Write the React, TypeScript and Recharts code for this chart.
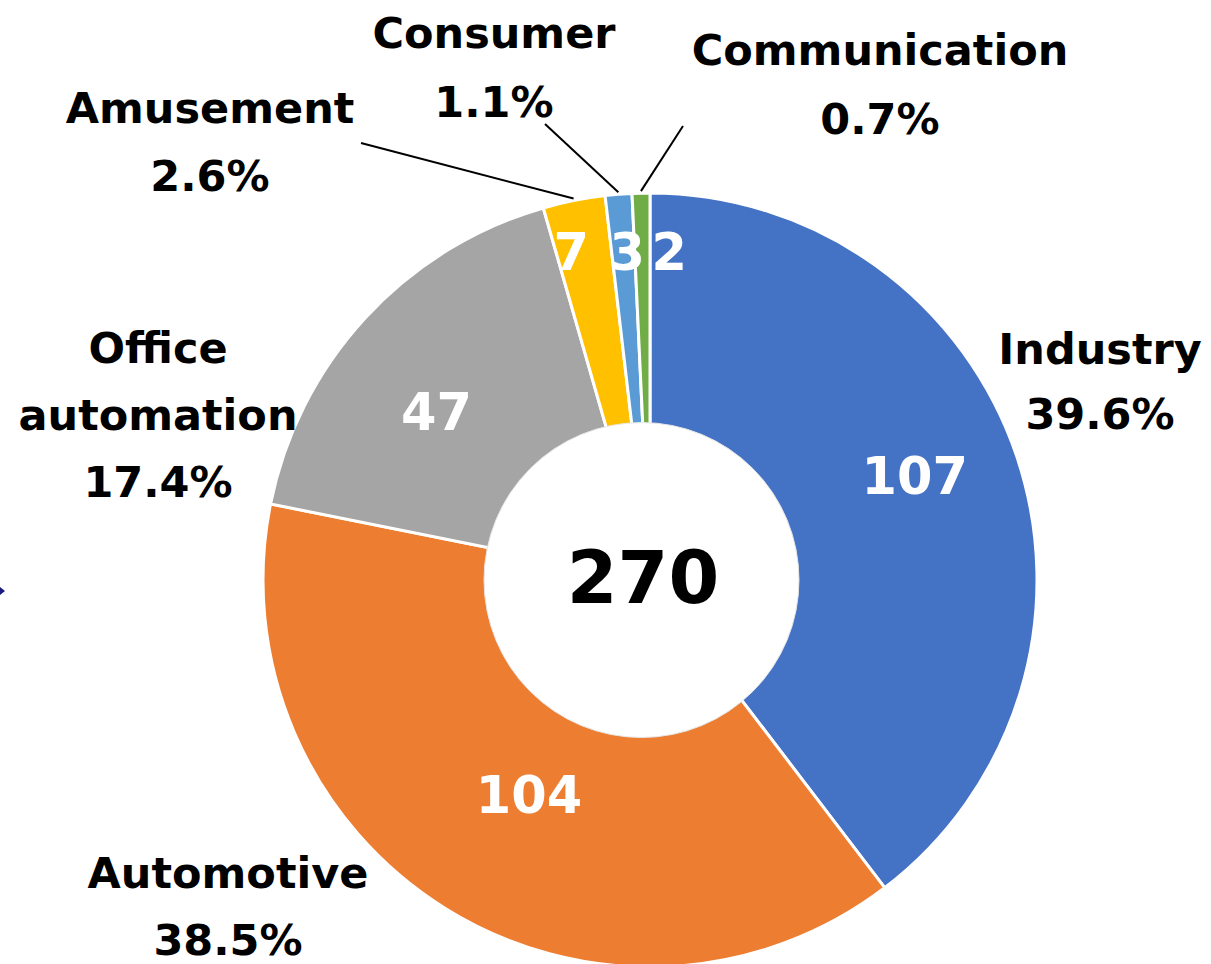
import { PieChart, Pie, Cell } from 'recharts';

const categories = ['Industry', 'Automotive', 'Office automation', 'Amusement', 'Consumer', 'Communication'];
const counts = [107, 104, 47, 7, 3, 2];
const colors = ['#4472C4', '#ED7D31', '#A5A5A5', '#FFC000', '#5B9BD5', '#70AD47'];
const totalLabel = '270';

const data = categories.map((name, i) => ({ name, value: counts[i] }));

// label layout (text only, slices come from the pie itself)
const valueLabelPos = [
  { r: 270, dx: 9, dy: 0 },
  { r: 270, dx: 22, dy: 4 },
  { r: 270, dx: -15, dy: 33 },
  { r: 330, dx: -14, dy: 14 },
  { r: 330, dx: 4, dy: 19 },
  { r: 330, dx: 27, dy: 20 },
];
const nameLabelPos = [
  { x: 1100, y: 364, gap: 65, lines: ['Industry'] },
  { x: 228, y: 888, gap: 67, lines: ['Automotive'] },
  { x: 158, y: 363, gap: 67, lines: ['Office', 'automation'] },
  { x: 210, y: 123, gap: 68, lines: ['Amusement'] },
  { x: 494, y: 48, gap: 69, lines: ['Consumer'] },
  { x: 880, y: 65, gap: 69, lines: ['Communication'] },
];
const leaderEnds: ({ x: number; y: number } | null)[] = [null, null, null, { x: 361, y: 143 }, { x: 545, y: 124 }, { x: 683, y: 126 }];

const FONT = '"DejaVu Sans", Verdana, sans-serif';
const RAD = Math.PI / 180;

const renderLabel = (props: any) => {
  const { cx, cy, midAngle, outerRadius, index, value, percent } = props;
  const polar = (r: number) => ({ x: cx + r * Math.cos(-midAngle * RAD), y: cy + r * Math.sin(-midAngle * RAD) });
  const vp = valueLabelPos[index];
  const v = polar(vp.r);
  const np = nameLabelPos[index];
  const lines = [...np.lines, (percent * 100).toFixed(1) + '%'];
  const end = leaderEnds[index];
  const edge = polar(outerRadius + 2);
  return (
    <g>
      <text x={v.x + vp.dx} y={v.y + vp.dy} textAnchor="middle" fill="#fff" fontSize={51} fontWeight="bold" fontFamily={FONT}>
        {value}
      </text>
      {end && <line x1={edge.x} y1={edge.y} x2={end.x} y2={end.y} stroke="#000" strokeWidth={2} />}
      {lines.map((t, i) => (
        <text key={i} x={np.x} y={np.y + i * np.gap} textAnchor="middle" fill="#000" fontSize={43} fontWeight="bold" fontFamily={FONT}>
          {t}
        </text>
      ))}
    </g>
  );
};

export default function App() {
  return (
    <div style={{ position: 'absolute', left: 0, top: 0, width: 1211, height: 964, background: '#fff' }}>
      <PieChart width={1211} height={964} margin={{ top: 0, right: 0, bottom: 0, left: 0 }}>
        <Pie
          data={data}
          dataKey="value"
          nameKey="name"
          cx={650}
          cy={580}
          innerRadius={140}
          outerRadius={387}
          startAngle={90}
          endAngle={-270}
          stroke="#fff"
          strokeWidth={3}
          label={renderLabel}
          labelLine={false}
          isAnimationActive={false}
        >
          {data.map((d, i) => (
            <Cell key={d.name} fill={colors[i]} />
          ))}
        </Pie>
      </PieChart>
      {/* centre hole is a separate white disc laid over the doughnut, slightly off-centre as in the original slide */}
      <svg width={1211} height={964} style={{ position: 'absolute', left: 0, top: 0, pointerEvents: 'none' }}>
        <circle cx={641.5} cy={580} r={157.5} fill="#fff" stroke="#e6e6e6" strokeWidth={1} />
        <text x={643} y={603} textAnchor="middle" fill="#000" fontSize={73} fontWeight="bold" fontFamily={FONT}>
          {totalLabel}
        </text>
        <polygon points="0,587 5,591 0,595" fill="#1a1a80" />
      </svg>
    </div>
  );
}
